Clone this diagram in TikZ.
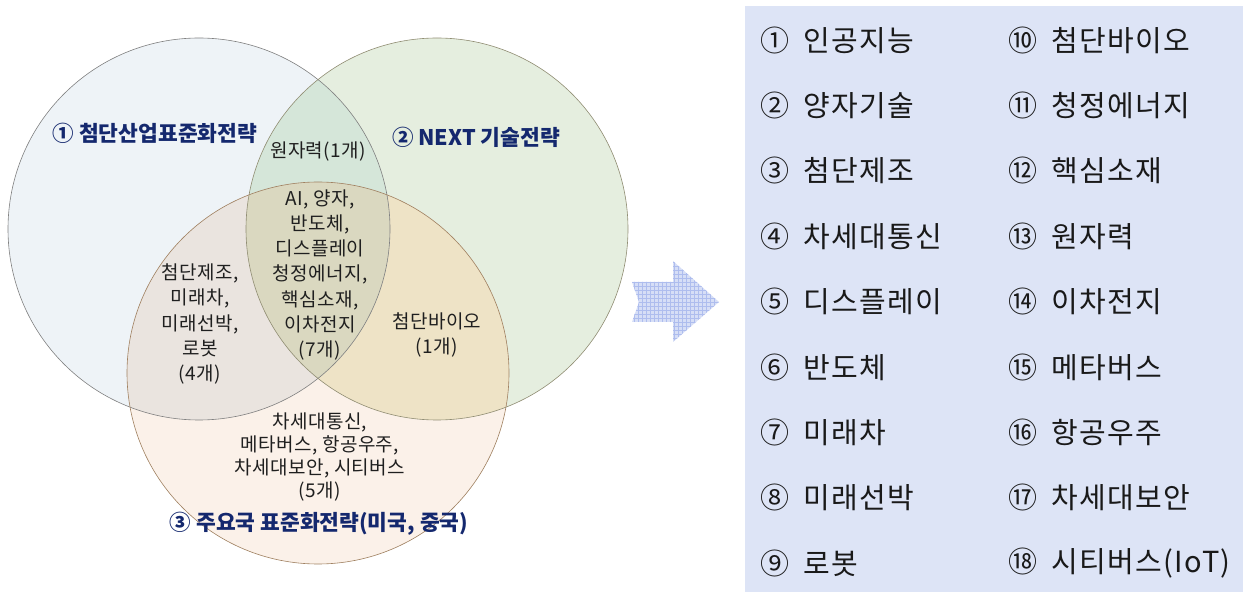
\documentclass[tikz,border=0pt]{standalone}
\usepackage{fontspec}
\setmainfont{Noto Sans CJK KR}
\definecolor{cA}{HTML}{EEF3F7}
\definecolor{cB}{HTML}{E5EEDF}
\definecolor{cC}{HTML}{FBF1E9}
\definecolor{cAB}{HTML}{D5E6D9}
\definecolor{cAC}{HTML}{EAE4DF}
\definecolor{cBC}{HTML}{EEE3C6}
\definecolor{cABC}{HTML}{DAD8C0}
\definecolor{navy}{HTML}{14286E}
\definecolor{boxbg}{HTML}{DDE4F6}
\definecolor{arrowbg}{HTML}{D6DEF6}
\definecolor{arrowgrid}{HTML}{AEBDEE}
\begin{document}
\begin{tikzpicture}[x=1pt,y=-1pt,
  venntxt/.style={font=\fontsize{19}{25.3}\selectfont\addfontfeature{LetterSpace=2}, align=center, text=black!88, inner sep=0pt},
  bottxt/.style={font=\fontsize{19}{22.7}\selectfont\addfontfeature{LetterSpace=2}, align=center, text=black!88, inner sep=0pt},
  settitle/.style={font=\fontsize{21.5}{24}\selectfont\bfseries, text=navy, inner sep=0pt},
  listitem/.style={font=\fontsize{29}{30}\selectfont\addfontfeature{LetterSpace=5}, anchor=west, inner sep=0pt, text=black!90},
  ring/.style={line width=0.6pt}]
\useasboundingbox (0,0) rectangle (1243,593);
% circle fills
\fill[cA] (199,229) circle[radius=191];
\fill[cB] (437,229) circle[radius=191];
\fill[cC] (318,373) circle[radius=191];
\begin{scope}
  \clip (437,229) circle[radius=191];
  \fill[cBC] (318,373) circle[radius=191];
\end{scope}
\begin{scope}
  \clip (199,229) circle[radius=191];
  \fill[cAB] (437,229) circle[radius=191];
  \fill[cAC] (318,373) circle[radius=191];
  \clip (437,229) circle[radius=191];
  \fill[cABC] (318,373) circle[radius=191];
\end{scope}
% outlines
\draw[ring, draw=gray] (199,229) circle[radius=191];
\draw[ring, draw=gray!80!olive] (437,229) circle[radius=191];
\draw[ring, draw=brown!50!gray] (318,373) circle[radius=191];
% titles
\node[settitle] (t1) at (155,133) {① 첨단산업표준화전략};
\node[settitle] (t2) at (476,137) {② NEXT 기술전략};
\node[settitle] (t3) at (319,524) {③ 주요국 표준화전략(미국, 중국)};
% region texts
\node[venntxt] (ab) at (318,152) {원자력(1개)};
\node[venntxt] (abc) at (320,275) {AI, 양자,\\반도체,\\디스플레이\\청정에너지,\\핵심소재,\\이차전지\\(7개)};
\node[venntxt] (ac) at (200,324) {첨단제조,\\미래차,\\미래선박,\\로봇\\(4개)};
\node[venntxt] (bc) at (437,335) {첨단바이오\\(1개)};
\node[bottxt] (c) at (320,457) {차세대통신,\\메타버스, 항공우주,\\차세대보안, 시티버스\\(5개)};
% arrow
\def\arrowpath{(632,282) -- (673,282) -- (673,261) -- (719,302) -- (673,342) -- (673,322) -- (632,322) -- (639,302) -- cycle}
\fill[arrowbg] \arrowpath;
\begin{scope}
  \clip \arrowpath;
  \foreach \gx in {630,634,...,722} \draw[arrowgrid, line width=0.5pt] (\gx,258) -- (\gx,346);
  \foreach \gy in {258,262,...,346} \draw[arrowgrid, line width=0.5pt] (628,\gy) -- (724,\gy);
\end{scope}
% list box
\fill[boxbg] (745,6) rectangle (1243,592);
\foreach \n/\t [count=\i from 0] in {①/인공지능,②/양자기술,③/첨단제조,④/차세대통신,⑤/디스플레이,⑥/반도체,⑦/미래차,⑧/미래선박,⑨/로봇}{
  \node[listitem] (l\i) at (760,{40+65.4*\i}) {\n\hspace{14pt}\t};
}
\foreach \n/\t [count=\i from 0] in {⑩/첨단바이오,⑪/청정에너지,⑫/핵심소재,⑬/원자력,⑭/이차전지,⑮/메타버스,⑯/항공우주,⑰/차세대보안,⑱/시티버스(IoT)}{
  \node[listitem] (r\i) at (1008,{40+65.4*\i}) {\n\hspace{14pt}\t};
}
\end{tikzpicture}
\end{document}
